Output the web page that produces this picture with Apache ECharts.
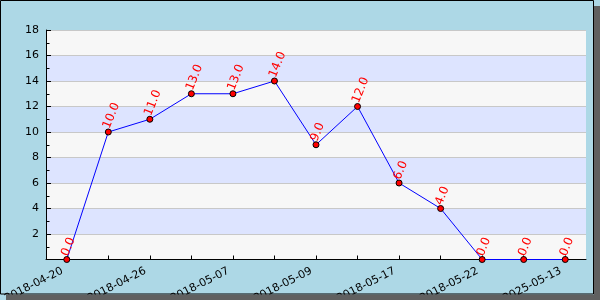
<!DOCTYPE html>
<html><head><meta charset="utf-8">
<script src="https://cdn.jsdelivr.net/npm/echarts@6/dist/echarts.min.js"></script>
<style>html,body{margin:0;padding:0;background:#ADD8E6;}#c{width:600px;height:300px;}</style>
</head><body><div id="c"></div>
<script>
var categories = ['2018-04-20','2018-04-23','2018-04-26','2018-05-02','2018-05-07','2018-05-08','2018-05-09','2018-05-15','2018-05-17','2018-05-20','2018-05-22','2025-05-12','2025-05-13'];
var values = [0,10,11,13,13,14,9,12,6,4,0,0,0];
var yTicks = {min:0, max:18, interval:2};

var chart = echarts.init(document.getElementById('c'), null, {renderer:'canvas'});
chart.setOption({
  backgroundColor:'#ADD8E6',
  animation:false,
  textStyle:{fontFamily:'DejaVu Sans'},
  grid:{left:46, top:30, right:14, bottom:40.5, containLabel:false, outerBoundsMode:'none'},
  xAxis:{
    type:'category', data:categories, boundaryGap:true,
    axisLine:{lineStyle:{color:'#000', width:1}},
    axisTick:{show:true, inside:true, alignWithLabel:true, interval:0, length:4, lineStyle:{color:'#000'}},
    axisLabel:{interval:1, rotate:27, color:'#000', fontSize:11, margin:8.5, padding:[0,5,0,0], fontFamily:'DejaVu Sans'},
    splitLine:{show:false}
  },
  yAxis:{
    type:'value', min:yTicks.min, max:yTicks.max, interval:yTicks.interval,
    axisLine:{show:true, lineStyle:{color:'#000', width:1}},
    axisTick:{show:true, inside:true, length:5, lineStyle:{color:'#000'}},
    minorTick:{show:true, splitNumber:2, length:3.5, lineStyle:{color:'#000'}},
    axisLabel:{showMinLabel:false, color:'#000', fontSize:11, margin:7, fontFamily:'DejaVu Sans'},
    splitLine:{show:true, lineStyle:{color:'#C8C8C8', width:1}},
    splitArea:{show:true, areaStyle:{color:['#F7F7F7','#DDE4FF']}}
  },
  series:[{
    type:'line', data:values,
    lineStyle:{color:'#0000FF', width:1},
    symbol:'circle', symbolSize:6,
    itemStyle:{color:'#FF0000', borderColor:'#000', borderWidth:1},
    label:{show:true, position:'top', distance:5, rotate:68, align:'left', verticalAlign:'middle', offset:[-5,0],
      color:'#FF0000', fontSize:12, fontFamily:'DejaVu Sans',
      formatter:function(p){return p.value.toFixed(1);}}
  }],
  graphic:[
    {type:'rect', z:100, silent:true, shape:{x:0.5,y:0.5,width:593,height:293.5}, style:{fill:null, stroke:'#000', lineWidth:1}},
    {type:'rect', z:100, silent:true, shape:{x:594,y:6,width:6,height:294}, style:{fill:'#606060'}},
    {type:'rect', z:100, silent:true, shape:{x:6,y:294.5,width:594,height:6}, style:{fill:'#606060'}}
  ]
});
</script></body></html>
